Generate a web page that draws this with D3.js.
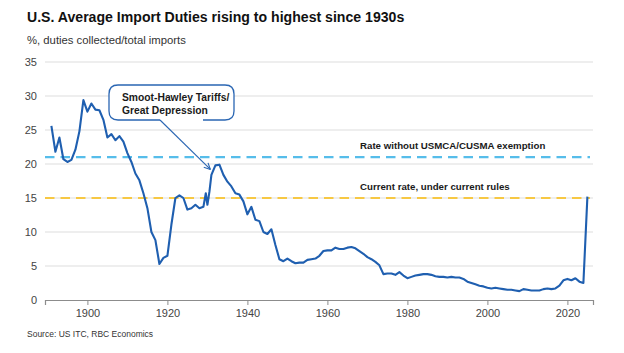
<!DOCTYPE html>
<html>
<head>
<meta charset="utf-8">
<script src="https://cdn.jsdelivr.net/npm/d3@7"></script>
<style>
  body { margin: 0; background: #fff; }
  svg { font-family: "Liberation Sans", Arial, sans-serif; }
</style>
</head>
<body>
<div id="chart"></div>
<script>
// data
const years = [
  1891, 1892, 1893, 1894, 1895, 1896, 1897, 1898, 1899, 1900,
  1901, 1902, 1903, 1904, 1905, 1906, 1907, 1908, 1909, 1910,
  1911, 1912, 1913, 1914, 1915, 1916, 1917, 1918, 1919, 1920,
  1921, 1922, 1923, 1924, 1925, 1926, 1927, 1928, 1929, 1929.6,
  1930, 1930.5, 1931, 1932, 1933, 1934, 1935, 1936, 1937, 1938,
  1939, 1940, 1941, 1942, 1943, 1944, 1945, 1946, 1947, 1948,
  1949, 1950, 1951, 1952, 1953, 1954, 1955, 1956, 1957, 1958,
  1959, 1960, 1961, 1962, 1963, 1964, 1965, 1966, 1967, 1968,
  1969, 1970, 1971, 1972, 1973, 1974, 1975, 1976, 1977, 1978,
  1979, 1980, 1981, 1982, 1983, 1984, 1985, 1986, 1987, 1988,
  1989, 1990, 1991, 1992, 1993, 1994, 1995, 1996, 1997, 1998,
  1999, 2000, 2001, 2002, 2003, 2004, 2005, 2006, 2007, 2008,
  2009, 2010, 2011, 2012, 2013, 2014, 2015, 2016, 2017, 2018,
  2019, 2020, 2021, 2022, 2023, 2024, 2025
];
const duties = [
  25.6, 21.8, 23.9, 20.7, 20.3, 20.6, 22.1, 24.8, 29.4, 27.7,
  28.9, 28.0, 27.9, 26.5, 23.9, 24.4, 23.5, 24.1, 23.3, 21.6,
  20.3, 18.6, 17.6, 15.7, 13.5, 10.0, 8.8, 5.3, 6.2, 6.5,
  11.1, 15.0, 15.4, 15.0, 13.3, 13.5, 14.0, 13.5, 13.7, 15.7,
  14.0, 15.9, 18.4, 19.8, 19.9, 18.4, 17.4, 16.7, 15.7, 15.5,
  14.5, 12.6, 13.7, 11.8, 11.6, 10.0, 9.7, 10.4, 8.1, 6.0,
  5.7, 6.1, 5.7, 5.4, 5.5, 5.5, 5.9, 6.0, 6.1, 6.5,
  7.2, 7.3, 7.3, 7.7, 7.5, 7.5, 7.7, 7.8, 7.6, 7.2,
  6.8, 6.3, 6.0, 5.6, 5.1, 3.8, 3.9, 3.9, 3.7, 4.1,
  3.6, 3.2, 3.4, 3.6, 3.7, 3.8, 3.8, 3.7, 3.5, 3.4,
  3.4, 3.3, 3.4, 3.3, 3.3, 3.1, 2.7, 2.5, 2.3, 2.1,
  2.0, 1.8, 1.7, 1.8, 1.7, 1.6, 1.5, 1.5, 1.4, 1.3,
  1.6, 1.5, 1.4, 1.4, 1.4, 1.6, 1.7, 1.6, 1.7, 2.1,
  2.9, 3.1, 2.9, 3.2, 2.7, 2.5, 15.2
];
const yTicks = [0, 5, 10, 15, 20, 25, 30, 35];
const xTicks = [1900, 1920, 1940, 1960, 1980, 2000, 2020];
const refLevels = [21, 15];
const refLabels = ["Rate without USMCA/CUSMA exemption", "Current rate, under current rules"];
const refColors = ["#56bdea", "#f7c843"];

const W = 624, H = 353;
const svg = d3.select("#chart").append("svg")
  .attr("width", W)
  .attr("height", H);

const x = d3.scaleLinear().domain([1889.4, 2026.4]).range([45, 593]);
const y = d3.scaleLinear().domain([0, 35]).range([300, 62]);

// title + subtitle
svg.append("text")
  .attr("x", 27).attr("y", 22)
  .attr("font-size", 14.1).attr("font-weight", "bold").attr("fill", "#111")
  .text("U.S. Average Import Duties rising to highest since 1930s");
svg.append("text")
  .attr("x", 27).attr("y", 44)
  .attr("font-size", 11.3).attr("fill", "#333")
  .text("%, duties collected/total imports");

// gridlines
svg.append("g")
  .selectAll("line")
  .data(yTicks.filter(d => d > 0))
  .join("line")
  .attr("x1", 45).attr("x2", 593)
  .attr("y1", d => y(d)).attr("y2", d => y(d))
  .attr("stroke", "#e9e9e9").attr("stroke-width", 1.5);

// y axis (labels only)
const yAxis = svg.append("g")
  .attr("transform", "translate(45,0)")
  .call(d3.axisLeft(y).tickValues(yTicks).tickSize(0).tickPadding(8));
yAxis.select(".domain").remove();
yAxis.selectAll("text")
  .attr("font-size", 11).attr("fill", "#444")
  .attr("font-family", "Liberation Sans, Arial, sans-serif");

// x axis
const xAxis = svg.append("g")
  .attr("transform", `translate(0,${y(0)})`)
  .call(d3.axisBottom(x).tickValues(xTicks).tickFormat(d3.format("d")).tickSizeOuter(0).tickSize(5).tickPadding(4));
xAxis.select(".domain").attr("stroke", "#8c8c8c").attr("stroke-width", 1.2);
xAxis.selectAll(".tick line").attr("stroke", "#8c8c8c");
xAxis.selectAll("text")
  .attr("font-size", 11).attr("fill", "#444")
  .attr("font-family", "Liberation Sans, Arial, sans-serif");

// reference dashed lines with labels
refLevels.forEach((lvl, i) => {
  svg.append("line")
    .attr("x1", 45).attr("x2", 590)
    .attr("y1", y(lvl)).attr("y2", y(lvl))
    .attr("stroke", refColors[i])
    .attr("stroke-width", 2.2)
    .attr("stroke-dasharray", "9.5,6");
  svg.append("text")
    .attr("x", 360).attr("y", y(lvl) - 8)
    .attr("font-size", 9.7).attr("font-weight", "bold").attr("fill", "#1a1a1a")
    .text(refLabels[i]);
});

// main series
const line = d3.line()
  .x((d, i) => x(years[i]))
  .y(d => y(d));
svg.append("path")
  .datum(duties)
  .attr("fill", "none")
  .attr("stroke", "#1f5fb0")
  .attr("stroke-width", 2.1)
  .attr("stroke-linejoin", "round")
  .attr("d", line);

// callout box
const bx = 109, by = 85, bw = 125, bh = 35, r = 9;
const gapL = 160, gapR = 203;
svg.append("path")
  .attr("d", `M${gapL},${by + bh} L${bx + r},${by + bh} Q${bx},${by + bh} ${bx},${by + bh - r}
    L${bx},${by + r} Q${bx},${by} ${bx + r},${by} L${bx + bw - r},${by} Q${bx + bw},${by} ${bx + bw},${by + r}
    L${bx + bw},${by + bh - r} Q${bx + bw},${by + bh} ${bx + bw - r},${by + bh} L${gapR},${by + bh}`)
  .attr("fill", "#fff")
  .attr("stroke", "#2a66b3")
  .attr("stroke-width", 1.3);
svg.append("text")
  .attr("x", 122).attr("y", 101)
  .attr("font-size", 10.3).attr("font-weight", "bold").attr("fill", "#1a1a1a")
  .text("Smoot-Hawley Tariffs/");
svg.append("text")
  .attr("x", 122).attr("y", 113.5)
  .attr("font-size", 10.3).attr("font-weight", "bold").attr("fill", "#1a1a1a")
  .text("Great Depression");

// arrow from callout to the 1930s peak
const tipX = x(1931) - 1, tipY = y(19.2);
svg.append("line")
  .attr("x1", gapL).attr("y1", by + bh)
  .attr("x2", tipX).attr("y2", tipY)
  .attr("stroke", "#2a66b3").attr("stroke-width", 1.1);
const ang = Math.atan2(tipY - (by + bh), tipX - gapL);
[-0.45, 0.45].forEach(a => {
  svg.append("line")
    .attr("x1", tipX).attr("y1", tipY)
    .attr("x2", tipX - 7 * Math.cos(ang + a))
    .attr("y2", tipY - 7 * Math.sin(ang + a))
    .attr("stroke", "#2a66b3").attr("stroke-width", 1.1);
});

// source
svg.append("text")
  .attr("x", 27).attr("y", 337)
  .attr("font-size", 8.5).attr("fill", "#333")
  .text("Source: US ITC, RBC Economics");
</script>
</body>
</html>
